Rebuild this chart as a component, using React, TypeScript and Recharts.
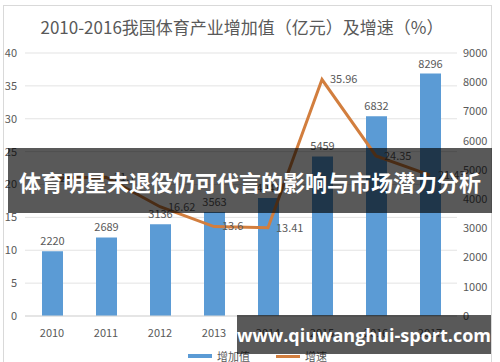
import React from "react";
import {
  ComposedChart,
  Bar,
  Line,
  XAxis,
  YAxis,
  CartesianGrid,
  LabelList,
} from "recharts";

const years = ["2010", "2011", "2012", "2013", "2014", "2015", "2016", "2017"];
const addedValue = [2220, 2689, 3136, 3563, 4041, 5459, 6832, 8296];
const growthRate = [21.0, 21.1, 16.62, 13.6, 13.41, 35.96, 24.35, 21.43];
const leftTicks = [0, 5, 10, 15, 20, 25, 30, 35, 40];
const rightTicks = [0, 1000, 2000, 3000, 4000, 5000, 6000, 7000, 8000, 9000];

const data = years.map((year, i) => ({
  year,
  value: addedValue[i],
  rate: growthRate[i],
}));

const gray = "#595959";
const font = "'Noto Sans CJK SC', 'Noto Sans', sans-serif";

export default function App() {
  return (
    <div
      style={{
        position: "absolute",
        left: 0,
        top: 0,
        width: 500,
        height: 362,
        background: "#fff",
        overflow: "hidden",
        fontFamily: font,
      }}
    >
      <div
        style={{
          position: "absolute",
          left: 3,
          top: 5,
          width: 487,
          height: 370,
          border: "1px solid #d9d9d9",
        }}
      />
      <div
        style={{
          position: "absolute",
          left: 0,
          top: 15,
          width: 484,
          textAlign: "center",
          fontSize: 17,
          color: gray,
          lineHeight: "24px",
        }}
      >
        2010-2016我国体育产业增加值（亿元）及增速（%）
      </div>
      <ComposedChart
        width={500}
        height={362}
        data={data}
        margin={{ top: 53, right: 0, bottom: 22, left: 0 }}
        style={{ position: "absolute", left: 0, top: 0 }}
      >
        <CartesianGrid vertical={false} stroke="#e3e3e3" yAxisId="left" />
        <XAxis
          dataKey="year"
          axisLine={{ stroke: "#d9d9d9" }}
          tickLine={false}
          tick={{ fill: gray, fontSize: 11, fontFamily: font }}
          tickMargin={7}
          height={24}
        />
        <YAxis
          yAxisId="left"
          domain={[0, 40]}
          ticks={leftTicks}
          axisLine={false}
          tickLine={false}
          width={25}
          tickMargin={2}
          tick={{ fill: gray, fontSize: 11, fontFamily: font }}
        />
        <YAxis
          yAxisId="right"
          orientation="right"
          domain={[0, 9000]}
          ticks={rightTicks}
          axisLine={false}
          tickLine={false}
          width={43}
          tickMargin={0}
          tick={{ fill: gray, fontSize: 11, fontFamily: font, textAnchor: "start" }}
        />
        <Bar
          yAxisId="right"
          dataKey="value"
          fill="#5B9BD5"
          barSize={21}
          isAnimationActive={false}
        >
          <LabelList
            dataKey="value"
            position="top"
            offset={6}
            fill={gray}
            fontSize={11}
            fontFamily={font}
          />
        </Bar>
        <Line
          yAxisId="left"
          dataKey="rate"
          stroke="#D27E3E"
          strokeWidth={3}
          dot={false}
          isAnimationActive={false}
        >
          <LabelList
            dataKey="rate"
            position="right"
            offset={8}
            fill={gray}
            fontSize={11}
            fontFamily={font}
          />
        </Line>
      </ComposedChart>
      <div
        style={{
          position: "absolute",
          left: 188,
          top: 348,
          display: "flex",
          alignItems: "center",
          fontSize: 11,
          color: gray,
        }}
      >
        <span style={{ display: "inline-block", width: 24, height: 4, background: "#5B9BD5", marginRight: 5 }} />
        <span style={{ marginRight: 26 }}>增加值</span>
        <span style={{ display: "inline-block", width: 24, height: 3, background: "#D27E3E", marginRight: 5 }} />
        <span>增速</span>
      </div>
      <div
        style={{
          position: "absolute",
          left: 8,
          top: 148,
          width: 484,
          height: 65,
          background: "rgba(0,0,0,0.65)",
          color: "#fff",
          fontWeight: 700,
          fontSize: 22,
          display: "flex",
          alignItems: "center",
          justifyContent: "center",
          whiteSpace: "nowrap",
        }}
      >
        体育明星未退役仍可代言的影响与市场潜力分析
      </div>
      <div
        style={{
          position: "absolute",
          left: 237,
          top: 315,
          width: 254,
          height: 39,
          background: "rgba(0,0,0,0.65)",
          color: "#fff",
          fontWeight: 700,
          fontSize: 18,
          fontFamily: "'Open Sans', sans-serif",
          display: "flex",
          alignItems: "center",
          justifyContent: "center",
          whiteSpace: "nowrap",
        }}
      >
        www.qiuwanghui-sport.com
      </div>
    </div>
  );
}
